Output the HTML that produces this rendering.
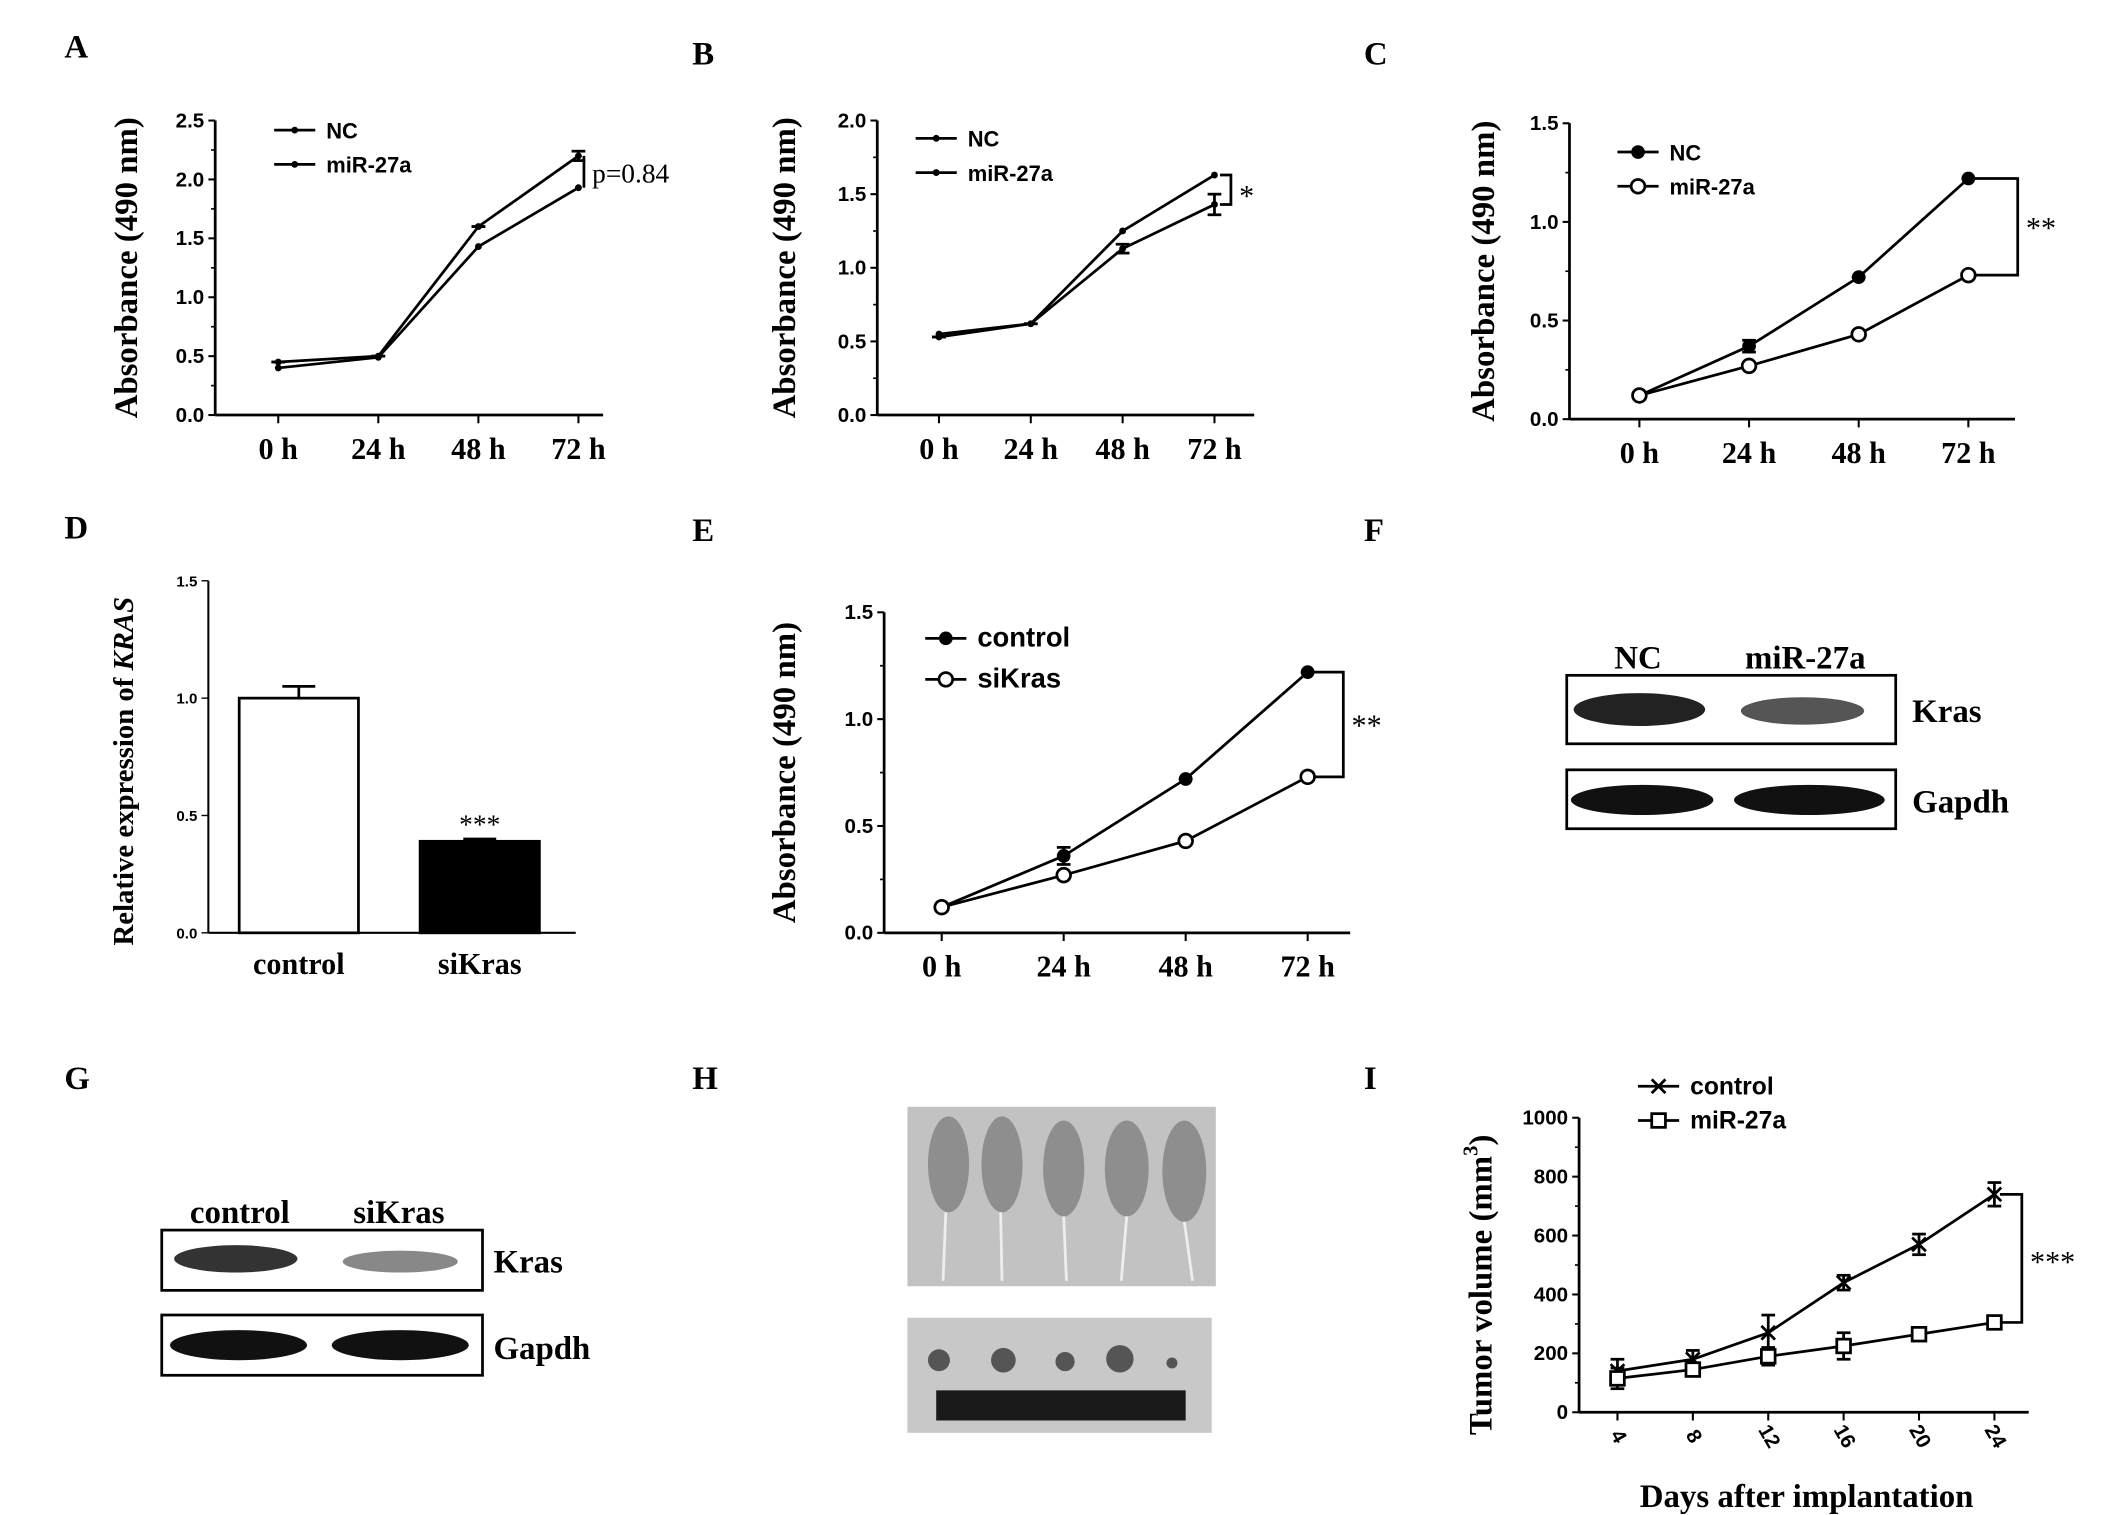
<!DOCTYPE html>
<html><head><meta charset="utf-8"><style>
html,body{margin:0;padding:0;background:#fff;}
svg{display:block;}
.L{font-family:"Liberation Serif",serif;font-weight:bold;font-size:24px;}
.t{font-family:"Liberation Sans",sans-serif;font-weight:bold;font-size:15px;}
.x{font-family:"Liberation Serif",serif;font-weight:bold;font-size:22px;}
.yl{font-family:"Liberation Serif",serif;font-weight:bold;font-size:24px;}
.lg{font-family:"Liberation Sans",sans-serif;font-weight:bold;font-size:16px;}
</style></head><body>
<svg id="fig" width="2126" height="1515" viewBox="0 0 1551 1106" preserveAspectRatio="none" xmlns="http://www.w3.org/2000/svg">
<g class="L">
<text x="47" y="42">A</text><text x="505" y="47">B</text><text x="995" y="47">C</text>
<text x="47" y="393">D</text><text x="505" y="395">E</text><text x="995" y="395">F</text>
<text x="47" y="795">G</text><text x="505" y="795">H</text><text x="995" y="795">I</text>
</g>
<g>
<text x="1195" y="488" text-anchor="middle" class="yl" font-size="26">NC</text>
<text x="1317" y="488" text-anchor="middle" class="yl" font-size="26">miR-27a</text>
<rect x="1143" y="493" width="240" height="50" fill="#fff" stroke="#000" stroke-width="2"/>
<ellipse cx="1196" cy="518" rx="48" ry="12" fill="#222"/>
<ellipse cx="1315" cy="519" rx="45" ry="10" fill="#555"/>
<rect x="1143" y="562" width="240" height="43" fill="#fff" stroke="#000" stroke-width="2"/>
<ellipse cx="1198" cy="584" rx="52" ry="11" fill="#111"/>
<ellipse cx="1320" cy="584" rx="55" ry="11" fill="#111"/>
<text x="1395" y="527" class="yl" font-size="26">Kras</text>
<text x="1395" y="593" class="yl" font-size="26">Gapdh</text>
</g>
<g>
<text x="175" y="893" text-anchor="middle" class="yl" font-size="26">control</text>
<text x="291" y="893" text-anchor="middle" class="yl" font-size="26">siKras</text>
<rect x="118" y="898" width="234" height="44" fill="#fff" stroke="#000" stroke-width="2"/>
<ellipse cx="172" cy="919" rx="45" ry="10" fill="#333"/>
<ellipse cx="292" cy="921" rx="42" ry="8" fill="#888"/>
<rect x="118" y="960" width="234" height="44" fill="#fff" stroke="#000" stroke-width="2"/>
<ellipse cx="174" cy="982" rx="50" ry="11" fill="#111"/>
<ellipse cx="292" cy="982" rx="50" ry="11" fill="#111"/>
<text x="360" y="929" class="yl" font-size="26">Kras</text>
<text x="360" y="992" class="yl" font-size="26">Gapdh</text>
</g>
<g>
<rect x="662" y="808" width="225" height="131" fill="#c2c2c2"/>
<g fill="#8e8e8e"><ellipse cx="692" cy="850" rx="15" ry="35"/><ellipse cx="731" cy="850" rx="15" ry="35"/><ellipse cx="776" cy="853" rx="15" ry="35"/><ellipse cx="822" cy="853" rx="16" ry="35"/><ellipse cx="864" cy="855" rx="16" ry="37"/></g>
<g stroke="#eee" stroke-width="2"><line x1="690" y1="885" x2="688" y2="935"/><line x1="730" y1="885" x2="731" y2="935"/><line x1="776" y1="888" x2="778" y2="935"/><line x1="822" y1="888" x2="818" y2="935"/><line x1="864" y1="892" x2="870" y2="935"/></g>
<rect x="662" y="962" width="222" height="84" fill="#c8c8c8"/>
<g fill="#555"><circle cx="685" cy="993" r="8"/><circle cx="732" cy="993" r="9"/><circle cx="777" cy="994" r="7"/><circle cx="817" cy="992" r="10"/><circle cx="855" cy="995" r="4"/></g>
<rect x="683" y="1015" width="182" height="22" fill="#1a1a1a"/>
</g>
<g id="charts"></g>
</svg>
<script>
// Panel A
const hrs = ["0 h","24 h","48 h","72 h"];
const aNC = [0.45,0.5,1.6,2.2];
const aMiR = [0.4,0.49,1.43,1.93];
const aTicks = [0,0.5,1.0,1.5,2.0,2.5];
// Panel B
const bNC = [0.55,0.62,1.25,1.63];
const bMiR = [0.53,0.62,1.13,1.43];
const bTicks = [0,0.5,1.0,1.5,2.0];
// Panel C
const cNC = [0.12,0.37,0.72,1.22];
const cMiR = [0.12,0.27,0.43,0.73];
const cTicks = [0,0.5,1.0,1.5];
// Panel D
const dCats = ["control","siKras"];
const dVals = [1.0,0.39];
const dErr = [0.05,0.01];
const dTicks = [0,0.5,1.0,1.5];
// Panel E
const eCtrl = [0.12,0.36,0.72,1.22];
const eSi = [0.12,0.27,0.43,0.73];
// Panel I
const days = ["4","8","12","16","20","24"];
const iCtrl = [140,180,270,440,570,740];
const iCtrlErr = [40,30,60,25,35,40];
const iMiR = [115,145,190,225,265,305];
const iMiRErr = [35,20,30,45,20,15];
const iTicks = [0,200,400,600,800,1000];

const NS="http://www.w3.org/2000/svg";
const root=document.getElementById('charts');
function mk(tag,attrs,parent,txt){const e=document.createElementNS(NS,tag);for(const k in attrs)e.setAttribute(k,attrs[k]);if(txt!==undefined)e.textContent=txt;(parent||root).appendChild(e);return e;}
function tickFmt(v,dec){return dec?v.toFixed(1):String(v);}

function chart(o){
  const g=mk('g',{});
  
  
  const yS=v=>o.y0-(v-o.ymin)/(o.ymax-o.ymin)*(o.y0-o.y1);
  const xS=i=>o.xs[0]+i*(o.xs[1]-o.xs[0]);
  mk('line',{x1:o.ax,y1:o.y1,x2:o.ax,y2:o.y0,stroke:'#000','stroke-width':2},g);
  mk('line',{x1:o.ax,y1:o.y0,x2:o.xend,y2:o.y0,stroke:'#000','stroke-width':2},g);
  o.ticks.forEach((v,k)=>{const y=yS(v);
    mk('line',{x1:o.ax-5,y1:y,x2:o.ax,y2:y,stroke:'#000','stroke-width':1.5},g);
    if(k<o.ticks.length-1){const ym=yS((v+o.ticks[k+1])/2);mk('line',{x1:o.ax-3,y1:ym,x2:o.ax,y2:ym,stroke:'#000','stroke-width':1.2},g);}
    const t=mk('text',{x:o.ax-8,y:y+5,'text-anchor':'end',class:'t'},g,tickFmt(v,o.dec));
    
  });
  o.cats.forEach((c,i)=>{const x=xS(i);
    mk('line',{x1:x,y1:o.y0,x2:x,y2:o.y0+6,stroke:'#000','stroke-width':1.5},g);
    let t;
    if(o.rot){t=mk('text',{x:x,y:o.y0+22,'text-anchor':'middle',class:'t',transform:`rotate(60 ${x} ${o.y0+18})`},g,c);}
    else t=mk('text',{x:x+o.xoff,y:o.y0+32,'text-anchor':'middle',class:'x'},g,c);
    
  });
  const yt=mk('text',{x:o.ylx,y:(o.y0+o.y1)/2+o.yloff,'text-anchor':'middle',class:'yl',transform:`rotate(-90 ${o.ylx} ${(o.y0+o.y1)/2+o.yloff})`},g,o.ylabel);
  
  o.series.forEach((s,si)=>{
    const pts=s.v.map((v,i)=>xS(i)+','+yS(v)).join(' ');
    const pl=mk('polyline',{points:pts,fill:'none',stroke:'#000','stroke-width':2},g);
    
    s.v.forEach((v,i)=>{const x=xS(i),y=yS(v);
      if(s.err){mk('line',{x1:x,y1:yS(v+s.err[i]),x2:x,y2:yS(v-s.err[i]),stroke:'#000','stroke-width':2},g);
        mk('line',{x1:x-5,y1:yS(v+s.err[i]),x2:x+5,y2:yS(v+s.err[i]),stroke:'#000','stroke-width':2},g);
        mk('line',{x1:x-5,y1:yS(v-s.err[i]),x2:x+5,y2:yS(v-s.err[i]),stroke:'#000','stroke-width':2},g);}
      let m;
      if(s.m==='dot')m=mk('circle',{cx:x,cy:y,r:2.5,fill:'#000'},g);
      else if(s.m==='fill')m=mk('circle',{cx:x,cy:y,r:5,fill:'#000'},g);
      else if(s.m==='open')m=mk('circle',{cx:x,cy:y,r:5,fill:'#fff',stroke:'#000','stroke-width':2},g);
      else if(s.m==='sq')m=mk('rect',{x:x-5,y:y-5,width:10,height:10,fill:'#fff',stroke:'#000','stroke-width':2},g);
      else m=mk('path',{d:`M${x-5} ${y-5}L${x+5} ${y+5}M${x+5} ${y-5}L${x-5} ${y+5}`,stroke:'#000','stroke-width':2},g);
      
    });
    const ly=o.leg[1]+si*o.leg[2],lx=o.leg[0];
    mk('line',{x1:lx,y1:ly,x2:lx+30,y2:ly,stroke:'#000','stroke-width':2},g);
    if(s.m==='dot')mk('circle',{cx:lx+15,cy:ly,r:2.5},g);
    else if(s.m==='fill')mk('circle',{cx:lx+15,cy:ly,r:5},g);
    else if(s.m==='open')mk('circle',{cx:lx+15,cy:ly,r:5,fill:'#fff',stroke:'#000','stroke-width':2},g);
    else if(s.m==='sq')mk('rect',{x:lx+10,y:ly-5,width:10,height:10,fill:'#fff',stroke:'#000','stroke-width':2},g);
    else mk('path',{d:`M${lx+10} ${ly-5}L${lx+20} ${ly+5}M${lx+20} ${ly-5}L${lx+10} ${ly+5}`,stroke:'#000','stroke-width':2},g);
    const lt=mk('text',{x:lx+38,y:ly+6,class:'lg',style:'font-size:'+(o.legfs||16)+'px'},g,s.label);
    
  });
  if(o.sig){const n=o.cats.length-1,x=xS(n),ya=yS(o.series[0].v[n]),yb=yS(o.series[1].v[n]),bx=x+o.sig[1];
    mk('path',{d:`M${x+4} ${ya}H${bx}V${yb}H${x+4}`,fill:'none',stroke:'#000','stroke-width':2},g);
    const st=mk('text',{x:bx+6,y:(ya+yb)/2+o.sig[2],class:'x',style:`font-weight:${o.sig[3]||'normal'};font-size:${o.sig[4]||22}px`},g,o.sig[0]);
    }
  return {g,yS,xS};
}

chart({name:'panel-a-chart',ax:157,y0:303,y1:88,ymin:0,ymax:2.5,xend:440,xs:[203,276],cats:hrs,xoff:0,ticks:aTicks,dec:true,
  ylx:100,yloff:0,ylabel:'Absorbance (490 nm)',series:[{key:'nc',label:'NC',v:aNC,m:'dot',err:[0,0,0,0.04]},{key:'mir27a',label:'miR-27a',v:aMiR,m:'dot'}],
  leg:[200,95,25],sig:['p=0.84',4,8,'normal',20]});
chart({name:'panel-b-chart',ax:640,y0:303,y1:88,ymin:0,ymax:2.0,xend:915,xs:[685,752],cats:hrs,xoff:0,ticks:bTicks,dec:true,
  ylx:580,yloff:0,ylabel:'Absorbance (490 nm)',series:[{key:'nc',label:'NC',v:bNC,m:'dot'},{key:'mir27a',label:'miR-27a',v:bMiR,m:'dot',err:[0,0,0.03,0.07]}],
  leg:[668,101,25],sig:['*',12,12,'normal',22]});
chart({name:'panel-c-chart',ax:1145,y0:306,y1:90,ymin:0,ymax:1.5,xend:1470,xs:[1196,1276],cats:hrs,xoff:0,ticks:cTicks,dec:true,
  ylx:1090,yloff:0,ylabel:'Absorbance (490 nm)',series:[{key:'nc',label:'NC',v:cNC,m:'fill',err:[0,0.03,0,0]},{key:'mir27a',label:'miR-27a',v:cMiR,m:'open'}],
  leg:[1180,111,25],sig:['**',36,8]});
chart({name:'panel-e-chart',ax:645,y0:681,y1:447,ymin:0,ymax:1.5,xend:985,xs:[687,776],cats:hrs,xoff:0,ticks:cTicks,dec:true,
  ylx:580,yloff:0,ylabel:'Absorbance (490 nm)',series:[{key:'control',label:'control',v:eCtrl,m:'fill',err:[0,0.04,0,0]},{key:'sikras',label:'siKras',v:eSi,m:'open'}],
  leg:[675,466,30],legfs:20,sig:['**',26,8]});
const I=chart({name:'panel-i-chart',ax:1152,y0:1031,y1:816,ymin:0,ymax:1000,xend:1480,xs:[1180,1235],cats:days,rot:true,xoff:0,ticks:iTicks,dec:false,
  ylx:1088,yloff:0,ylabel:'',series:[{key:'control',label:'control',v:iCtrl,m:'x',err:iCtrlErr},{key:'mir27a',label:'miR-27a',v:iMiR,m:'sq',err:iMiRErr}],
  leg:[1195,793,25],legfs:18,sig:['***',20,10]});
const yI=mk('text',{x:1088,y:938,'text-anchor':'middle',class:'yl',transform:'rotate(-90 1088 938)'},I.g);

yI.innerHTML='Tumor volume (mm<tspan dy="-10" font-size="15">3</tspan><tspan dy="10">)</tspan>';
const xI=mk('text',{x:1318,y:1100,'text-anchor':'middle',class:'yl'},I.g,'Days after implantation');


(function(){
  const g=mk('g',{});
  
  
  const ax=152,y0=681,y1=424,yS=v=>y0-v/1.5*(y0-y1),xc=[218,350],bw=87;
  mk('line',{x1:ax,y1:y1,x2:ax,y2:y0,stroke:'#000','stroke-width':1.5},g);
  mk('line',{x1:ax,y1:y0,x2:420,y2:y0,stroke:'#000','stroke-width':1.5},g);
  dTicks.forEach(v=>{const y=yS(v);mk('line',{x1:ax-5,y1:y,x2:ax,y2:y,stroke:'#000'},g);
    const t=mk('text',{x:ax-8,y:y+4,'text-anchor':'end',class:'t',style:'font-size:11px'},g,v.toFixed(1));
    });
  dCats.forEach((c,i)=>{const x=xc[i],y=yS(dVals[i]);
    mk('line',{x1:x,y1:yS(dVals[i]+dErr[i]),x2:x,y2:y,stroke:'#000','stroke-width':2},g);
    mk('line',{x1:x-12,y1:yS(dVals[i]+dErr[i]),x2:x+12,y2:yS(dVals[i]+dErr[i]),stroke:'#000','stroke-width':2},g);
    const b=mk('rect',{x:x-bw/2,y:y,width:bw,height:y0-y,fill:i?'#000':'#fff',stroke:'#000','stroke-width':2},g);
    
    const t=mk('text',{x:x,y:y0+30,'text-anchor':'middle',class:'yl',style:'font-size:22px'},g,c);
    });
  const s=mk('text',{x:xc[1],y:yS(dVals[1]+dErr[1])-4,'text-anchor':'middle',class:'x',style:'font-weight:normal;font-size:20px'},g,'***');
  
  const yt=mk('text',{x:97,y:563,'text-anchor':'middle',class:'yl',style:'font-size:21px',transform:'rotate(-90 97 563)'},g);
  
  yt.innerHTML='Relative  expression of <tspan font-style="italic">KRAS</tspan>';
})();
</script>
</body></html>
